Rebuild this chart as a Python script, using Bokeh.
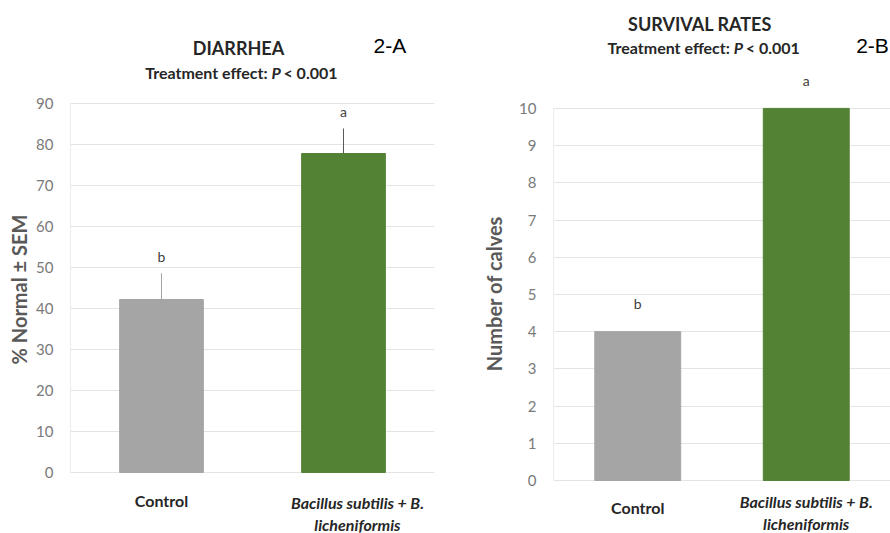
import math
from bokeh.plotting import figure
from bokeh.layouts import row
from bokeh.models import ColumnDataSource, FactorRange, FixedTicker
from bokeh.core.properties import value
from bokeh.embed import file_html
from bokeh.resources import INLINE

# ---------------- data ----------------
categories = ["Control", "Bacillus subtilis + B. licheniformis"]
category_text = ["Control", "Bacillus subtilis + B.\nlicheniformis"]
category_style = ["bold", "bold italic"]
bar_colors = ["#a5a5a5", "#548235"]

diarrhea_ticks = [0, 10, 20, 30, 40, 50, 60, 70, 80, 90]
diarrhea_values = [42.2, 77.8]
diarrhea_sem = [6.4, 6.1]
diarrhea_letters = ["b", "a"]

survival_ticks = [0, 1, 2, 3, 4, 5, 6, 7, 8, 9, 10]
survival_values = [4, 10]
survival_letters = ["b", "a"]

FONT = "Lato"
TICK_COLOR = "#7a7a7a"
GRID = "#e4e4e4"
TITLE_COLOR = "#262626"
AXIS_LABEL_COLOR = "#595959"
H = 533


def label_fig(width, text, x, y):
    # narrow strip holding a rotated y-axis title (page pixel coordinates)
    p = figure(width=width, height=H, x_range=(0, width), y_range=(H, 0),
               x_axis_type=None, y_axis_type=None, output_backend="svg",
               toolbar_location=None, min_border=0)
    p.outline_line_color = None
    p.grid.visible = False
    p.text(x=[x], y=[y], text=[text], angle=math.pi / 2,
           text_font=value(FONT), text_font_size="20px",
           text_font_style="bold", text_color=AXIS_LABEL_COLOR,
           text_align="center", text_baseline="middle")
    return p


def base_fig(width, yrange, ticks, mbl, mbr):
    p = figure(x_range=FactorRange(*categories), y_range=yrange,
               width=width, height=H, output_backend="svg",
               toolbar_location=None, min_border_left=mbl,
               min_border_right=mbr, min_border_top=0, min_border_bottom=0)
    p.outline_line_color = None
    p.xgrid.grid_line_color = None
    p.ygrid.grid_line_color = GRID
    p.xaxis.visible = False
    p.yaxis.ticker = FixedTicker(ticks=ticks)
    p.yaxis.bounds = (ticks[0], ticks[-1])
    p.yaxis.minor_tick_line_color = None
    p.yaxis.major_tick_line_color = None
    p.yaxis.axis_line_color = "#ececec"
    p.yaxis.major_label_text_font = FONT
    p.yaxis.major_label_text_font_size = "15px"
    p.yaxis.major_label_text_color = TICK_COLOR
    p.yaxis.major_label_standoff = 11
    return p


def add_text(p, texts, xs, ys, size, style="bold", font=FONT,
             color=TITLE_COLOR, align="center", x_offset=0, y_offset=0):
    p.text(x=xs, y=ys, text=texts, text_font=value(font),
           text_font_size=size, text_font_style=style, text_color=color,
           text_align=align, text_baseline="middle", text_line_height=1.15,
           x_offset=x_offset, y_offset=y_offset)


def add_title(p, title, tag, x_title, y_title, x_p, y_sub, x_tag, y_tag):
    add_text(p, [title], [x_title], [y_title], "18px")
    add_text(p, ["Treatment effect: "], [x_p], [y_sub], "16px",
             align="right")
    add_text(p, ["P"], [x_p], [y_sub], "16px", style="bold italic",
             align="left")
    add_text(p, ["< 0.001"], [x_p], [y_sub], "16px", align="left",
             x_offset=12)
    add_text(p, [tag], [x_tag], [y_tag], "21px", style="normal",
             font="Liberation Sans", color="#000000")


def add_categories(p, ys, offsets):
    for t, s, y, c, o in zip(category_text, category_style, ys, categories,
                             offsets):
        add_text(p, [t], [c], [y], "16px", style=s, x_offset=o)


# ---------------- 2-A ----------------
la = label_fig(30, "% Normal ± SEM", 18, 289)
pa = base_fig(415, (-14.88, 115.12), diarrhea_ticks, 40, 11)
src_a = ColumnDataSource(dict(
    x=categories, top=diarrhea_values,
    upper=[v + e for v, e in zip(diarrhea_values, diarrhea_sem)],
    color=bar_colors, err_color=["#a5a5a5", "#595959"],
    letter=diarrhea_letters))
pa.vbar(x="x", top="top", width=0.46, color="color", source=src_a)
pa.segment(x0="x", y0="top", x1="x", y1="upper", line_color="err_color",
           line_width=1, source=src_a)
pa.text(x="x", y="upper", text="letter", source=src_a, y_offset=-17,
        text_align="center", text_baseline="middle",
        text_font=value(FONT), text_font_size="14px", text_color="#404040")
add_title(pa, "DIARRHEA", "2-A", 0.923, 103.6, 1.104, 97.6, 1.755, 104.1)
add_categories(pa, [-6.8, -10.0], [0, 14])

# ---------------- 2-B ----------------
lb = label_fig(60, "Number of calves", 48, 293)
pb = base_fig(385, (-1.425, 12.90), survival_ticks, 48, 0)
src_b = ColumnDataSource(dict(
    x=categories, top=survival_values, color=bar_colors,
    letter=survival_letters))
pb.vbar(x="x", top="top", width=0.51, color="color", source=src_b)
pb.text(x="x", y="top", text="letter", source=src_b, y_offset=-28,
        text_align="center", text_baseline="middle",
        text_font=value(FONT), text_font_size="14px", text_color="#404040")
add_title(pb, "SURVIVAL RATES", "2-B", 0.869, 12.27, 1.07, 11.63,
          1.893, 11.69)
add_categories(pb, [-0.73, -0.86], [0, 0])

layout = row(la, pa, lb, pb)
open("out.html", "w").write(file_html(layout, INLINE))
